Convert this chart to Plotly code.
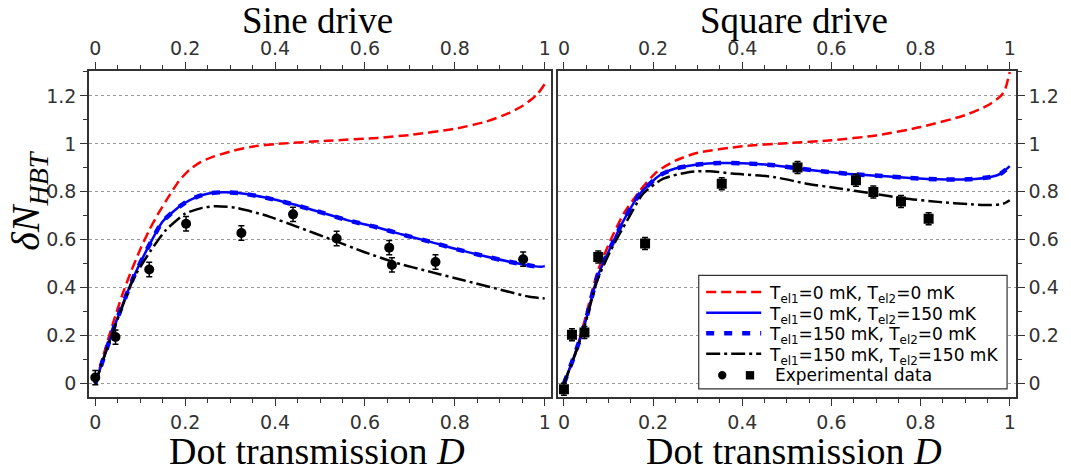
import plotly.graph_objects as go

# ---------------- data ----------------
# Sine drive (left panel)
sine_red_x = [0, 0.02, 0.04, 0.06, 0.08, 0.1, 0.12, 0.142, 0.165, 0.186, 0.21, 0.235, 0.26, 0.3, 0.348, 0.407, 0.517, 0.628, 0.7, 0.8, 0.87, 0.92, 0.95, 0.97, 0.985, 1.0]
sine_red_y = [0, 0.13, 0.255, 0.37, 0.47, 0.56, 0.64, 0.715, 0.785, 0.845, 0.893, 0.925, 0.945, 0.968, 0.988, 1.0, 1.013, 1.025, 1.037, 1.063, 1.093, 1.128, 1.158, 1.185, 1.21, 1.25]

sine_blue_x = [0, 0.02, 0.042, 0.065, 0.087, 0.116, 0.149, 0.175, 0.197, 0.225, 0.252, 0.282, 0.319, 0.378, 0.44, 0.499, 0.562, 0.624, 0.683, 0.746, 0.805, 0.867, 0.93, 0.975, 0.992, 1.0]
sine_blue_y = [0, 0.115, 0.236, 0.35, 0.452, 0.563, 0.674, 0.72, 0.751, 0.778, 0.793, 0.798, 0.795, 0.776, 0.748, 0.716, 0.681, 0.653, 0.622, 0.591, 0.56, 0.531, 0.505, 0.49, 0.487, 0.49]

sine_black_x = [0, 0.02, 0.042, 0.065, 0.087, 0.124, 0.157, 0.2, 0.238, 0.267, 0.311, 0.378, 0.451, 0.525, 0.598, 0.672, 0.746, 0.819, 0.893, 0.966, 1.0]
sine_black_y = [0, 0.113, 0.23, 0.345, 0.445, 0.556, 0.64, 0.709, 0.733, 0.74, 0.734, 0.702, 0.653, 0.601, 0.549, 0.502, 0.466, 0.431, 0.396, 0.362, 0.355]

sine_exp_x = [0.0, 0.045, 0.12, 0.202, 0.325, 0.44, 0.537, 0.654, 0.66, 0.757, 0.952]
sine_exp_y = [0.025, 0.194, 0.476, 0.667, 0.628, 0.706, 0.605, 0.567, 0.495, 0.507, 0.519]
sine_exp_err = [0.03, 0.03, 0.03, 0.03, 0.03, 0.03, 0.03, 0.03, 0.03, 0.03, 0.03]

# Square drive (right panel)
sq_red_x = [0, 0.024, 0.046, 0.075, 0.105, 0.134, 0.171, 0.208, 0.25, 0.3, 0.4, 0.5, 0.6, 0.7, 0.8, 0.9, 0.95, 0.98, 0.99, 1.0]
sq_red_y = [0, 0.115, 0.26, 0.465, 0.6, 0.709, 0.806, 0.883, 0.93, 0.963, 0.99, 1.003, 1.015, 1.035, 1.07, 1.12, 1.16, 1.2, 1.23, 1.3]

sq_blue_x = [0, 0.022, 0.045, 0.075, 0.105, 0.134, 0.171, 0.215, 0.25, 0.3, 0.35, 0.4, 0.47, 0.526, 0.588, 0.651, 0.714, 0.776, 0.839, 0.906, 0.957, 0.98, 1.0]
sq_blue_y = [0, 0.11, 0.236, 0.445, 0.57, 0.681, 0.793, 0.869, 0.897, 0.914, 0.92, 0.919, 0.911, 0.897, 0.884, 0.873, 0.866, 0.858, 0.852, 0.852, 0.862, 0.876, 0.907]

sq_black_x = [0, 0.022, 0.045, 0.075, 0.105, 0.142, 0.178, 0.223, 0.282, 0.326, 0.378, 0.47, 0.544, 0.618, 0.692, 0.765, 0.839, 0.913, 0.957, 0.985, 1.0]
sq_black_y = [0, 0.105, 0.23, 0.431, 0.556, 0.681, 0.793, 0.855, 0.883, 0.886, 0.876, 0.862, 0.834, 0.814, 0.793, 0.772, 0.758, 0.748, 0.745, 0.75, 0.765]

sq_exp_x = [0.0, 0.018, 0.046, 0.077, 0.182, 0.354, 0.524, 0.655, 0.694, 0.756, 0.818]
sq_exp_y = [-0.024, 0.204, 0.213, 0.528, 0.584, 0.834, 0.901, 0.848, 0.799, 0.76, 0.688]
sq_exp_err = [0.025, 0.025, 0.025, 0.025, 0.025, 0.025, 0.025, 0.025, 0.025, 0.025, 0.025]

legend_names = [
    "T<sub>el1</sub>=0 mK, T<sub>el2</sub>=0 mK",
    "T<sub>el1</sub>=0 mK, T<sub>el2</sub>=150 mK",
    "T<sub>el1</sub>=150 mK, T<sub>el2</sub>=0 mK",
    "T<sub>el1</sub>=150 mK, T<sub>el2</sub>=150 mK",
    "Experimental data",
]
panel_titles = ["Sine drive", "Square drive"]
x_title = "Dot transmission <i>D</i>"
y_title = "<i>δN</i><sub><i>HBT</i></sub>"

# ---------------- styles ----------------
RED = "#ff0000"
BLUE = "#0000ff"
BLACK = "#000000"
AXC = "#333333"
TICKFONT = dict(family="DejaVu Sans", size=19, color="#333333")
SERIF = "Liberation Serif"

RED_LINE = dict(color=RED, width=2.5, dash="10px,5px")
BLUE_LINE = dict(color=BLUE, width=2.5)
BLUED_LINE = dict(color=BLUE, width=4.5, dash="8px,10px")
BLACK_LINE = dict(color=BLACK, width=2.5, dash="14px,4px,3px,4px")
line_styles = [RED_LINE, BLUE_LINE, BLUED_LINE, BLACK_LINE]

fig = go.Figure()

def add_panel(xa, ya, rx, ry, bx, by, kx, ky, ex, ey, ee, symbol):
    for (xs, ys, st, nm) in [(rx, ry, RED_LINE, legend_names[0]), (bx, by, BLUE_LINE, legend_names[1]),
                             (bx, by, BLUED_LINE, legend_names[2]), (kx, ky, BLACK_LINE, legend_names[3])]:
        fig.add_trace(go.Scatter(x=xs, y=ys, mode="lines", xaxis=xa, yaxis=ya,
                                 line=dict(st, shape="spline", smoothing=0.6),
                                 name=nm, showlegend=False))
    fig.add_trace(go.Scatter(x=ex, y=ey, mode="markers", xaxis=xa, yaxis=ya,
                             marker=dict(color=BLACK, size=10, symbol=symbol),
                             error_y=dict(type="data", array=ee, color=BLACK, thickness=1.5, width=3),
                             name=legend_names[4], showlegend=False))

add_panel("x", "y", sine_red_x, sine_red_y, sine_blue_x, sine_blue_y, sine_black_x, sine_black_y,
          sine_exp_x, sine_exp_y, sine_exp_err, "circle")
add_panel("x2", "y2", sq_red_x, sq_red_y, sq_blue_x, sq_blue_y, sq_black_x, sq_black_y,
          sq_exp_x, sq_exp_y, sq_exp_err, "square")

# invisible traces for the top axes
fig.add_trace(go.Scatter(x=[0.5], y=[0.5], xaxis="x3", yaxis="y", mode="markers",
                         marker=dict(opacity=0), showlegend=False, hoverinfo="skip"))
fig.add_trace(go.Scatter(x=[0.5], y=[0.5], xaxis="x4", yaxis="y2", mode="markers",
                         marker=dict(opacity=0), showlegend=False, hoverinfo="skip"))

XR = [-0.014, 1.014]
YR = [-0.056, 1.304]
minor_x = dict(dtick=0.05, tick0=0, ticks="outside", ticklen=4, tickcolor=AXC, tickwidth=1.2, showgrid=False)
minor_y = dict(dtick=0.1, tick0=0, ticks="outside", ticklen=4, tickcolor=AXC, tickwidth=1.2, showgrid=False)

def xax(domain, anchor, side="bottom", overlaying=None):
    d = dict(domain=domain, anchor=anchor, range=XR, side=side, tick0=0, dtick=0.2,
             ticks="outside", ticklen=7, tickwidth=1.2, tickcolor=AXC, tickfont=TICKFONT,
             showline=True, linecolor=AXC, linewidth=1.5, mirror=True, showgrid=False,
             zeroline=False, minor=minor_x)
    if overlaying:
        d["overlaying"] = overlaying
    return d

def yax(anchor, side):
    return dict(anchor=anchor, domain=[0, 1], range=YR, side=side, tick0=0, dtick=0.2,
                ticks="outside", ticklen=7, tickwidth=1.2, tickcolor=AXC, tickfont=TICKFONT,
                showline=True, linecolor=AXC, linewidth=1.5, mirror=True,
                showgrid=True, gridcolor="#999999", griddash="dot", gridwidth=1,
                zeroline=False, minor=minor_y)

LD = [0, 0.4984]
RD = [0.5056, 1]
# page body adds an 8px offset, so the figure is 8px smaller than the window
PW, PH = 935.0, 326.0      # plot-area size in px
PL, PB = 89.0, 396.7        # plot-area left / bottom in page px

def px(x):
    return (x - PL) / PW

def py(y):
    return (PB - y) / PH

fig.update_layout(
    width=1063, height=467,
    margin=dict(l=81, r=47, t=63, b=78),
    paper_bgcolor="white", plot_bgcolor="white",
    xaxis=xax(LD, "y"),
    yaxis=yax("x", "left"),
    xaxis2=xax(RD, "y2"),
    yaxis2=yax("x2", "right"),
    xaxis3=xax(LD, "y", side="top", overlaying="x"),
    xaxis4=xax(RD, "y2", side="top", overlaying="x2"),
    showlegend=False,
)

TF = dict(family=SERIF, size=37, color="black")
annotations = [
    dict(text=panel_titles[0], x=0.246, y=py(20), xref="paper", yref="paper", showarrow=False,
         font=TF, xanchor="center", yanchor="middle"),
    dict(text=panel_titles[1], x=0.760, y=py(20), xref="paper", yref="paper", showarrow=False,
         font=TF, xanchor="center", yanchor="middle"),
    dict(text=x_title, x=0.246, y=py(451), xref="paper", yref="paper", showarrow=False,
         font=dict(family=SERIF, size=38, color="black"), xanchor="center", yanchor="middle"),
    dict(text=x_title, x=0.760, y=py(451), xref="paper", yref="paper", showarrow=False,
         font=dict(family=SERIF, size=38, color="black"), xanchor="center", yanchor="middle"),
    dict(text=y_title, x=px(28), y=py(200), xref="paper", yref="paper", showarrow=False,
         textangle=-90, font=dict(family=SERIF, size=40, color="black"),
         xanchor="center", yanchor="middle"),
]

# ---- legend box drawn in paper coordinates ----
shapes = []
LB_X0, LB_X1, LB_Y0, LB_Y1 = 704, 1015, 275, 388.5
shapes.append(dict(type="rect", xref="paper", yref="paper", x0=px(LB_X0), x1=px(LB_X1),
                   y0=py(LB_Y1), y1=py(LB_Y0), line=dict(color="#333333", width=1.2),
                   fillcolor="white", layer="above"))
row_y = [291.7, 312.5, 333.0, 353.5, 375.0]
for i, st in enumerate(line_styles):
    shapes.append(dict(type="line", xref="paper", yref="paper", x0=px(711.5), x1=px(767),
                       y0=py(row_y[i]), y1=py(row_y[i]), line=st, layer="above"))
    annotations.append(dict(text=legend_names[i], x=px(773), y=py(row_y[i] + 2.5), xref="paper",
                            yref="paper", showarrow=False, xanchor="left", yanchor="middle",
                            font=dict(family="DejaVu Sans", size=17, color="black")))
r = 4.2
cx, cy = 727.7, row_y[4]
shapes.append(dict(type="circle", xref="paper", yref="paper", x0=px(cx - r), x1=px(cx + r),
                   y0=py(cy + r), y1=py(cy - r), fillcolor=BLACK, line=dict(color=BLACK, width=0),
                   layer="above"))
sx = 755.7
shapes.append(dict(type="rect", xref="paper", yref="paper", x0=px(sx - r), x1=px(sx + r),
                   y0=py(cy + r), y1=py(cy - r), fillcolor=BLACK, line=dict(color=BLACK, width=0),
                   layer="above"))
annotations.append(dict(text=legend_names[4], x=px(779), y=py(cy), xref="paper", yref="paper",
                        showarrow=False, xanchor="left", yanchor="middle",
                        font=dict(family="DejaVu Sans", size=17, color="black")))

fig.update_layout(annotations=annotations, shapes=shapes)

fig.write_html("out.html")
